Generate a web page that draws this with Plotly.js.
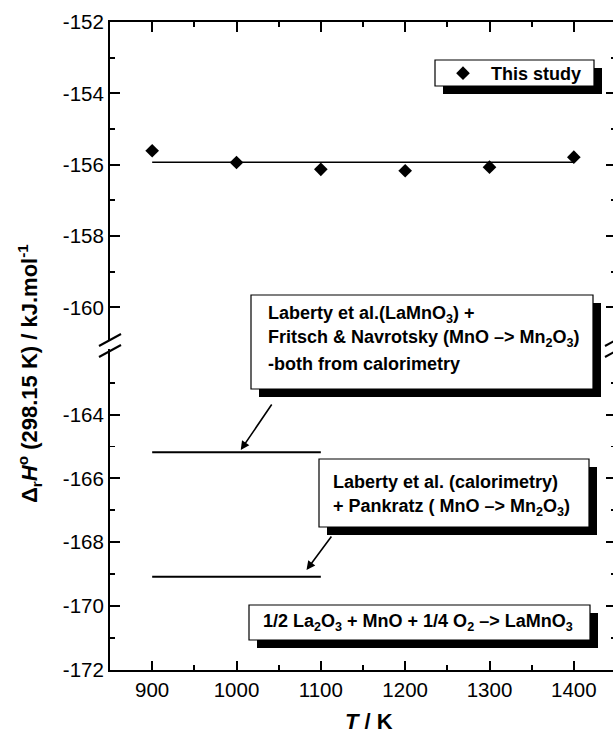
<!DOCTYPE html>
<html>
<head>
<meta charset="utf-8">
<script src="https://cdn.plot.ly/plotly-3.0.1.min.js"></script>
<style>
  html, body { margin: 0; padding: 0; overflow: hidden; background: #fff; }
  #chart { width: 616px; height: 738px; }
</style>
</head>
<body>
<div id="chart"></div>
<script>
// Temperatures (K) and reaction enthalpies (kJ/mol) for 1/2 La2O3 + MnO + 1/4 O2 -> LaMnO3
const studyT  = [900, 1000, 1100, 1200, 1300, 1400];
const studyDH = [-155.61, -155.94, -156.13, -156.17, -156.07, -155.79];

// Horizontal average through this study's values
const fitT  = [900, 1400];
const fitDH = [-155.93, -155.93];

// Laberty et al. (LaMnO3) + Fritsch & Navrotsky, both calorimetric
const calorT  = [900, 1100];
const calorDH = [-165.18, -165.18];

// Laberty et al. (calorimetry) + Pankratz
const pankT  = [900, 1100];
const pankDH = [-169.08, -169.08];

// Axis ticks and their labels (plain hyphen as minus sign)
const xTicks      = [900, 1000, 1100, 1200, 1300, 1400];
const xMinor      = [850, 950, 1050, 1150, 1250, 1350, 1450];
const upperTicks  = [-160, -158, -156, -154, -152];
const upperLabels = ['-160', '-158', '-156', '-154', '-152'];
const upperMinor  = [-159, -157, -155, -153];
const lowerTicks  = [-172, -170, -168, -166, -164];
const lowerLabels = ['-172', '-170', '-168', '-166', '-164'];
const lowerMinor  = [-171, -169, -167, -165, -163];

// Plot frame in pixels (used to place boxes and break marks)
const W = 616, H = 738;
const M = { l: 110, r: 0, t: 22, b: 68 };
const PW = W - M.l - M.r, PH = H - M.t - M.b;
const px = x => (x - M.l) / PW;
const py = y => (M.t + PH - y) / PH;

const FONT = 'Liberation Sans, Arial, Helvetica, sans-serif';
const ink = '#000';

const traces = [
  { x: fitT, y: fitDH, xaxis: 'x2', yaxis: 'y2', mode: 'lines',
    line: { color: ink, width: 1.6 }, showlegend: false, hoverinfo: 'skip' },
  { x: studyT, y: studyDH, xaxis: 'x2', yaxis: 'y2', mode: 'markers', name: 'This study',
    marker: { symbol: 'diamond', size: 10.5, color: ink } },
  { x: calorT, y: calorDH, xaxis: 'x', yaxis: 'y', mode: 'lines',
    line: { color: ink, width: 1.8 }, showlegend: false },
  { x: pankT, y: pankDH, xaxis: 'x', yaxis: 'y', mode: 'lines',
    line: { color: ink, width: 1.8 }, showlegend: false }
];

const tickFont = { family: FONT, size: 20.5, color: ink };
const common = {
  showline: true, linecolor: ink, linewidth: 2,
  ticks: 'inside', tickcolor: ink, tickwidth: 2,
  showgrid: false, zeroline: false, tickfont: tickFont
};
const minorOf = (vals, len) => ({ tickmode: 'array', tickvals: vals, ticks: 'inside',
  ticklen: len, tickwidth: 1.8, tickcolor: ink, showgrid: false });

const upperBottom = 340, lowerTop = 349;

const layout = {
  width: W, height: H,
  margin: M,
  paper_bgcolor: '#fff', plot_bgcolor: '#fff',
  font: { family: FONT, color: ink },
  showlegend: true,
  legend: {
    x: px(435), y: py(73.5), xanchor: 'left', yanchor: 'middle',
    bgcolor: 'rgba(0,0,0,0)', borderwidth: 0,
    font: { family: FONT, size: 18, weight: 'bold', color: ink },
    itemwidth: 46
  },
  xaxis: Object.assign({}, common, {
    anchor: 'y', domain: [0, 1], range: [850, 1450],
    tickmode: 'array', tickvals: xTicks, ticklen: 9,
    minor: minorOf(xMinor, 5)
  }),
  xaxis2: Object.assign({}, common, {
    anchor: 'y2', matches: 'x', side: 'top', showticklabels: false,
    tickmode: 'array', tickvals: xTicks, ticklen: 10,
    minor: minorOf(xMinor, 5)
  }),
  yaxis: Object.assign({}, common, {
    anchor: 'x', domain: [0, py(lowerTop)], range: [-172, -161.947],
    mirror: 'ticks', tickmode: 'array', tickvals: lowerTicks, ticktext: lowerLabels, ticklen: 10,
    minor: minorOf(lowerMinor, 5)
  }),
  yaxis2: Object.assign({}, common, {
    anchor: 'x2', domain: [py(upperBottom), 1], range: [-160.915, -152],
    mirror: 'ticks', tickmode: 'array', tickvals: upperTicks, ticktext: upperLabels, ticklen: 10,
    minor: minorOf(upperMinor, 5)
  }),
  shapes: [],
  annotations: []
};

// Shadowed text boxes [left, top, right, bottom] in pixels
function shadowBox(l, t, r, b) {
  const d = 8;
  layout.shapes.push({ type: 'rect', xref: 'paper', yref: 'paper', layer: 'above',
    x0: px(l + d), x1: px(r + d), y0: py(t + d), y1: py(b + d),
    fillcolor: ink, line: { width: 0 } });
  layout.shapes.push({ type: 'rect', xref: 'paper', yref: 'paper', layer: 'above',
    x0: px(l), x1: px(r), y0: py(t), y1: py(b),
    fillcolor: '#fff', line: { color: ink, width: 1.2 } });
}
shadowBox(435, 60, 594, 86);
shadowBox(251, 295, 593, 389);
shadowBox(319, 459, 589, 527);
shadowBox(249, 605, 590, 640);

// Axis break marks on both sides of the frame
function breakMarks(cx) {
  [[346, 334], [357, 345]].forEach(([y0, y1]) => {
    layout.shapes.push({ type: 'line', xref: 'paper', yref: 'paper', layer: 'above',
      x0: px(cx - 11), y0: py(y0), x1: px(cx + 11), y1: py(y1),
      line: { color: ink, width: 2 } });
  });
}
breakMarks(110);
breakMarks(616);

const boxFont = { family: FONT, size: 18, color: ink, weight: 'bold' };
function label(text, x, y) {
  layout.annotations.push({ text, xref: 'paper', yref: 'paper', x: px(x), y: py(y),
    xanchor: 'left', yanchor: 'middle', showarrow: false, align: 'left', font: boxFont });
}
label('Laberty et al.(LaMnO<sub>3</sub>) +', 266, 314);
label('Fritsch &amp; Navrotsky (MnO &#8211;&gt; Mn<sub>2</sub>O<sub>3</sub>)', 266, 339);
label('-both from calorimetry', 266, 364);
label('Laberty et al. (calorimetry)', 331, 482);
label('+ Pankratz ( MnO &#8211;&gt; Mn<sub>2</sub>O<sub>3</sub>)', 331, 507);
label('1/2 La<sub>2</sub>O<sub>3</sub> + MnO + 1/4 O<sub>2</sub> &#8211;&gt; LaMnO<sub>3</sub>', 261, 622);

// Arrows from the boxes to the lines they describe
layout.annotations.push({ xref: 'x', yref: 'y', x: 1005, y: -165.11, text: '',
  showarrow: true, arrowhead: 2, arrowsize: 1.1, arrowwidth: 1.6, arrowcolor: ink,
  ax: 32, ay: -47 });
layout.annotations.push({ xref: 'x', yref: 'y', x: 1083, y: -168.87, text: '',
  showarrow: true, arrowhead: 2, arrowsize: 1.1, arrowwidth: 1.6, arrowcolor: ink,
  ax: 26, ay: -35 });

// Axis titles
layout.annotations.push({ xref: 'paper', yref: 'paper', x: px(369), y: py(721),
  xanchor: 'center', yanchor: 'middle', showarrow: false,
  text: '<b><i>T</i> / K</b>', font: { family: FONT, size: 22, color: ink } });
layout.annotations.push({ xref: 'paper', yref: 'paper', x: px(29), y: py(374),
  xanchor: 'center', yanchor: 'middle', showarrow: false, textangle: -90,
  text: '<b>&#916;<sub>r</sub><i>H</i><sup>o</sup> (298.15 K) / kJ.mol<sup>-1</sup></b>',
  font: { family: FONT, size: 22, color: ink } });

Plotly.newPlot('chart', traces, layout, { displayModeBar: false, staticPlot: true });
</script>
</body>
</html>
